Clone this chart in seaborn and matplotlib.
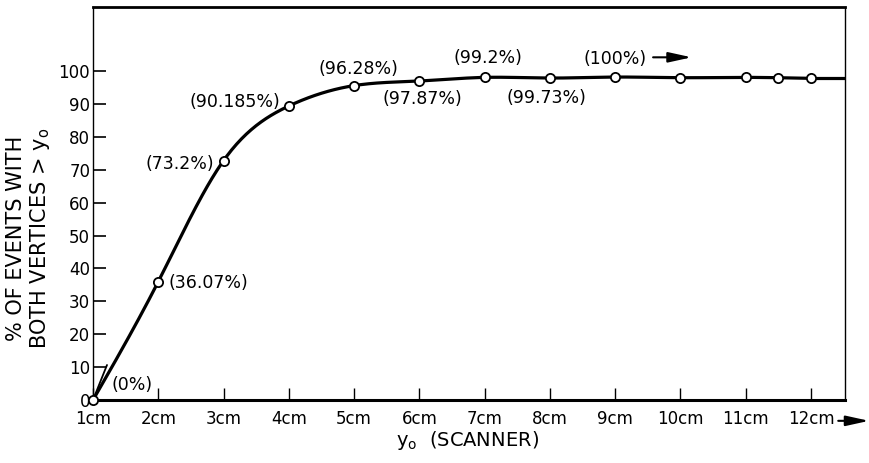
import numpy as np
import pandas as pd
import matplotlib
matplotlib.use("Agg")
import matplotlib.pyplot as plt
import seaborn as sns

# ---- data ----
y0_cm = [1, 2, 3, 4, 5, 6, 7, 8, 9, 10, 11, 11.5, 12]
pct_plotted = [0.0, 36.0, 72.8, 89.4, 95.6, 97.0, 98.1, 97.9, 98.2, 98.0, 98.1, 98.0, 97.8]
pct_labels = ["(0%)", "(36.07%)", "(73.2%)", "(90.185%)", "(96.28%)",
              "(97.87%)", "(99.2%)", "(99.73%)", "(100%)"]
x_ticks = [1, 2, 3, 4, 5, 6, 7, 8, 9, 10, 11, 12]
x_tick_labels = ["1cm", "2cm", "3cm", "4cm", "5cm", "6cm", "7cm", "8cm",
                 "9cm", "10cm", "11cm", "12cm"]
y_ticks = [0, 10, 20, 30, 40, 50, 60, 70, 80, 90, 100]

XMIN, XMAX = 1.0, 12.52
YMIN, YMAX = 0.0, 119.5


def smooth_curve(x, y, n=40):
    """Natural cubic spline through the points (for drawing only)."""
    x = np.asarray(x, float)
    y = np.asarray(y, float)
    k = len(x)
    h = np.diff(x)
    A = np.zeros((k, k))
    r = np.zeros(k)
    A[0, 0] = A[-1, -1] = 1.0
    for i in range(1, k - 1):
        A[i, i - 1] = h[i - 1]
        A[i, i] = 2 * (h[i - 1] + h[i])
        A[i, i + 1] = h[i]
        r[i] = 6 * ((y[i + 1] - y[i]) / h[i] - (y[i] - y[i - 1]) / h[i - 1])
    M = np.linalg.solve(A, r)
    xs, ys = [], []
    for i in range(k - 1):
        t = np.linspace(x[i], x[i + 1], n, endpoint=(i == k - 2))
        a = x[i + 1] - t
        b = t - x[i]
        s = (M[i] * a**3 + M[i + 1] * b**3) / (6 * h[i]) \
            + (y[i] / h[i] - M[i] * h[i] / 6) * a \
            + (y[i + 1] / h[i] - M[i + 1] * h[i] / 6) * b
        xs.append(t)
        ys.append(s)
    return np.concatenate(xs), np.concatenate(ys)


sns.set_style("white")
plt.rcParams["font.family"] = ["DejaVu Sans"]
plt.rcParams["mathtext.fontset"] = "dejavusans"
plt.rcParams["text.color"] = "black"
plt.rcParams["xtick.color"] = "black"
plt.rcParams["ytick.color"] = "black"
plt.rcParams["xtick.labelcolor"] = "black"
plt.rcParams["ytick.labelcolor"] = "black"

fig = plt.figure(figsize=(8.7, 4.63), dpi=100)
ax = fig.add_axes([93 / 870, 1 - 400 / 463, (845 - 93) / 870, (400 - 7) / 463])

cx, cy = smooth_curve(y0_cm, pct_plotted)
curve = pd.DataFrame({"x": cx, "y": cy})
sns.lineplot(data=curve, x="x", y="y", sort=False, estimator=None,
             color="black", linewidth=2.3, ax=ax, zorder=2)
ax.hlines(pct_plotted[-1], y0_cm[-1], XMAX, color="black", linewidth=2.3, zorder=2)

pts = pd.DataFrame({"x": y0_cm, "y": pct_plotted})
sns.scatterplot(data=pts, x="x", y="y", s=44, facecolor="white",
                edgecolor="black", linewidth=1.3, zorder=4, clip_on=False, ax=ax)

ax.set_xlim(XMIN, XMAX)
ax.set_ylim(YMIN, YMAX)
ax.set_xticks(x_ticks)
ax.set_xticklabels(x_tick_labels)
ax.set_yticks(y_ticks)
ax.set_yticklabels([str(v) for v in y_ticks])
ax.set_xlabel("")
ax.set_ylabel("")
ax.tick_params(axis="x", direction="in", length=9, width=1.0, pad=7,
               labelsize=12, bottom=True, colors="black")
ax.tick_params(axis="y", direction="in", length=9, width=1.2, pad=2,
               labelsize=12, left=True, colors="black")

for side, lw in (("top", 2.0), ("bottom", 2.2), ("left", 1.0), ("right", 1.0)):
    ax.spines[side].set_visible(True)
    ax.spines[side].set_linewidth(lw)
    ax.spines[side].set_color("black")

# ---- percentage labels (offsets in pixels from each point) ----
offsets = [(19, 15, "left"), (10, -1, "left"), (-9, -3, "right"), (-9, 4, "right"),
           (4, 17, "center"), (3, -18, "center"), (3, 19, "center"),
           (-4, -20, "center"), (-32, 18, "left")]
for i, (lab, (dx, dy, ha)) in enumerate(zip(pct_labels, offsets)):
    ax.annotate(lab, xy=(y0_cm[i], pct_plotted[i]), xytext=(dx, dy),
                textcoords="offset pixels", ha=ha, va="center", fontsize=12.5,
                color="black", annotation_clip=False, zorder=5)

# leader line for (0%)
ax.annotate("", xy=(y0_cm[0], pct_plotted[0]), xytext=(14, 35),
            textcoords="offset pixels", annotation_clip=False,
            arrowprops=dict(arrowstyle="-", lw=1.3, color="black",
                            shrinkA=0, shrinkB=4))

# arrow after (100%)
ax.annotate("", xy=(10.17, 104.2), xytext=(9.58, 104.2), annotation_clip=False,
            arrowprops=dict(arrowstyle="-|>,head_length=1.0,head_width=0.22",
                            lw=1.5, color="black", mutation_scale=14,
                            shrinkA=0, shrinkB=0))

# arrow after 12cm
ax.annotate("", xy=(1.032, -0.053), xytext=(0.991, -0.053),
            xycoords="axes fraction", annotation_clip=False,
            arrowprops=dict(arrowstyle="-|>,head_length=1.0,head_width=0.22",
                            lw=1.5, color="black", mutation_scale=14,
                            shrinkA=0, shrinkB=0))

# axis titles
fig.text(29 / 870, 1 - 238 / 463,
         "% OF EVENTS WITH\nBOTH VERTICES > $\\mathregular{y_o}$",
         rotation=90, ha="center", va="center", multialignment="center",
         fontsize=15, linespacing=1.1, color="black")
fig.text(467 / 870, 1 - 440 / 463, "$\\mathregular{y_o}$  (SCANNER)",
         ha="center", va="center", fontsize=14, color="black")

fig.savefig("out.png", dpi=100)
